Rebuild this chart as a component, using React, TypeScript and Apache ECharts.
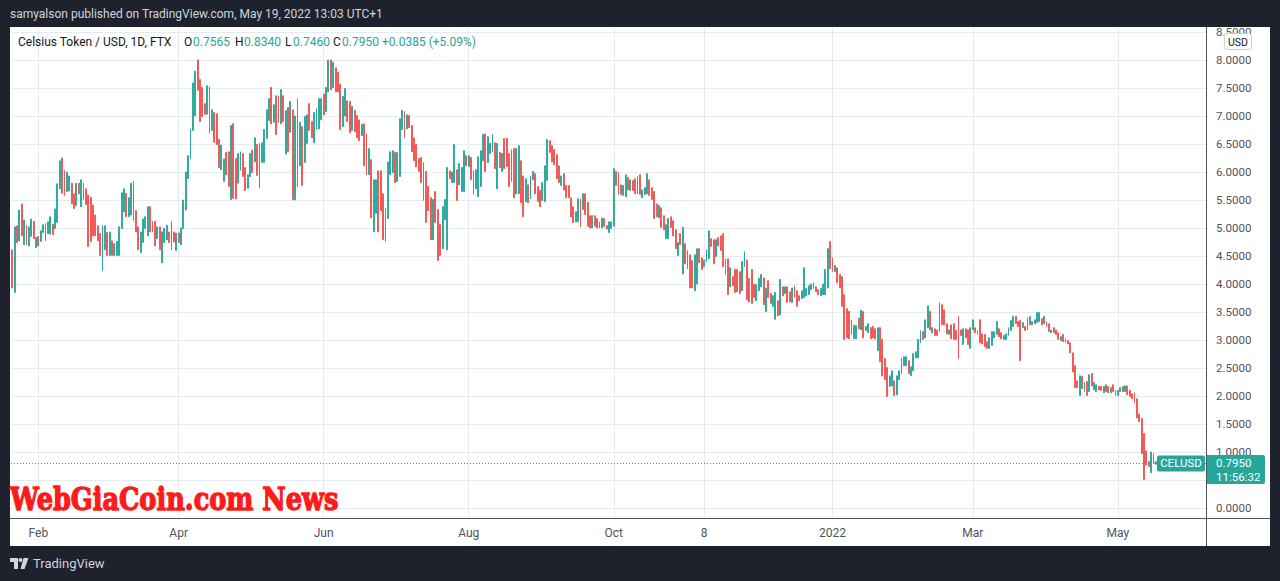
import React, { useEffect, useRef } from 'react';
import * as echarts from 'echarts';

// ---- time axis ----
const startDateUTC = Date.UTC(2021, 0, 21);
const categoryCount = 503;
const timeLabels: Record<string, string> = {
  '2021-02-01': 'Feb',
  '2021-04-01': 'Apr',
  '2021-06-01': 'Jun',
  '2021-08-01': 'Aug',
  '2021-10-01': 'Oct',
  '2021-11-08': '8',
  '2022-01-01': '2022',
  '2022-03-01': 'Mar',
  '2022-05-01': 'May',
};

// ---- price axis ----
const priceTicks = [0, 0.5, 1, 1.5, 2, 2.5, 3, 3.5, 4, 4.5, 5, 5.5, 6, 6.5, 7, 7.5, 8, 8.5];
// 0.5000 sits under the last-price box in the reference, so its label is not drawn
const priceLabels = [0, 1, 1.5, 2, 2.5, 3, 3.5, 4, 4.5, 5, 5.5, 6, 6.5, 7, 7.5, 8, 8.5];
const priceMin = -0.1786;
const priceMax = 8.589;

// Jan 21 - Apr 9, 2021
const opensJanApr2021 = [4.61,3.85,5.04,4.77,5.43,4.70,5.05,4.68,4.85,5.12,4.65,4.85,4.76,4.92,5.08,4.90,4.89,5.07,4.99,5.10,5.70,6.25,6.03,5.65,5.66,5.80,5.61,5.40,5.80,5.38,5.80,5.70,5.59,5.55,5.41,5.23,5.04,4.90,4.24,4.61,4.92,4.51,4.77,4.51,4.51,4.51,4.99,5.29,5.62,5.20,5.23,5.83,5.31,5.02,4.56,4.74,4.99,4.86,5.38,5.12,5.12,4.81,5.02,4.38,4.74,4.79,4.93,4.61,4.93,4.60,4.91,4.70,4.99,5.32,5.88,6.24,6.74,7.00,8.00];
const closesJanApr2021 = [3.93,5.02,4.74,5.32,4.86,5.14,4.70,5.02,5.16,4.81,4.83,4.68,4.95,5.06,4.77,5.11,5.20,4.88,5.34,5.79,6.20,5.62,5.58,6.00,5.93,5.43,5.35,5.80,5.61,5.86,5.51,5.42,4.67,4.76,4.86,4.86,4.77,4.51,5.04,5.04,4.51,4.93,4.51,4.72,4.76,5.02,5.63,5.70,5.20,5.54,5.80,5.13,4.93,4.61,4.93,5.16,5.20,5.38,4.93,4.93,4.68,5.02,4.61,4.93,5.00,5.05,4.74,5.11,4.75,4.91,4.74,5.00,5.50,6.00,6.29,6.77,7.59,7.80,7.46];
// Apr 10 - May 19, 2021
const opensAprMay2021 = [7.65,7.51,7.22,7.03,7.52,6.74,7.06,7.04,6.58,6.04,5.83,6.35,6.36,5.51,6.86,6.24,5.80,6.03,6.33,6.08,5.71,5.92,6.39,6.18,6.49,5.71,6.17,6.17,6.60,6.92,7.51,6.89,7.36,7.36,6.86,7.36,6.32,7.15,6.71,7.11];
const closesAprMay2021 = [6.90,6.99,7.03,7.54,6.69,7.11,6.53,6.49,6.08,6.48,6.23,5.95,5.74,6.83,5.53,5.52,6.33,6.36,5.92,5.67,5.95,6.33,5.99,6.61,5.94,6.51,6.52,6.76,7.11,7.31,6.86,7.20,6.67,6.88,7.47,6.90,7.10,6.36,7.26,5.51];
// May 20 - Sep 18, 2021
const opensMaySep2021 = [5.50,7.31,6.11,6.81,6.17,6.51,7.22,6.90,6.52,6.76,6.77,6.93,7.39,7.08,7.43,8.00,7.51,7.86,7.78,7.57,6.81,7.00,7.27,7.26,6.74,7.10,7.01,6.93,6.65,6.86,6.68,5.95,6.22,4.93,5.26,6.02,6.02,5.61,4.76,5.17,5.95,5.99,6.35,5.83,5.92,6.76,7.08,6.77,7.01,6.83,6.61,6.49,6.24,6.26,6.17,6.01,5.74,5.54,4.79,5.65,5.33,5.06,4.63,5.15,4.61,6.02,5.81,5.81,6.04,5.77,5.65,5.65,6.29,6.10,6.26,6.02,5.70,5.56,5.74,6.20,6.68,6.17,6.33,6.36,6.52,5.70,6.35,6.01,6.60,6.60,6.33,5.83,6.42,5.61,5.61,6.20,5.93,5.47,5.77,5.52,5.86,5.97,5.74,5.67,5.49,5.47,5.85,6.56,6.47,6.40,6.31,6.11,5.76,5.97,5.76,5.76,5.54,5.38,5.11,5.11,5.52,5.33];
const closesMaySep2021 = [7.00,5.74,6.89,5.76,6.99,7.02,6.74,6.61,7.06,7.13,7.31,7.31,7.02,7.51,8.00,7.47,7.96,7.43,7.43,6.76,7.35,7.49,6.90,6.70,7.17,6.72,6.61,6.56,6.85,6.11,5.95,6.42,5.18,5.86,5.86,4.93,5.31,4.79,5.35,6.18,6.36,6.38,5.81,6.35,6.95,7.10,6.61,7.02,6.79,6.36,6.20,6.09,6.01,5.81,5.49,5.10,5.31,4.79,5.51,5.10,4.42,4.51,5.38,5.51,6.08,5.88,6.00,6.49,5.49,6.15,6.08,6.38,6.11,6.29,5.86,5.60,6.04,6.27,6.38,6.67,6.01,6.63,6.51,6.67,6.06,6.51,6.08,6.33,6.06,6.10,5.74,6.40,5.54,6.42,6.47,5.45,5.20,5.88,5.45,5.92,6.01,5.61,5.47,5.38,5.81,6.11,6.58,6.35,6.18,6.13,5.88,5.81,5.93,5.68,5.54,5.54,5.20,5.10,5.29,5.52,5.02,5.61];
// Sep 19, 2021 - Jan 16, 2022
const opensSepJan = [5.61,5.46,5.22,5.00,5.22,5.17,5.00,5.00,5.17,5.04,4.92,4.99,5.03,6.01,5.99,5.77,5.58,5.56,5.90,5.67,5.85,5.88,5.61,5.95,5.54,5.60,5.61,5.86,5.72,5.65,5.43,5.18,5.36,5.22,4.81,4.81,5.20,5.13,4.97,4.51,4.90,4.18,4.72,4.60,4.52,4.42,3.88,4.00,4.63,4.47,4.31,4.40,4.45,4.81,4.79,4.49,4.83,4.86,4.90,4.45,4.45,3.95,4.13,4.26,4.26,4.22,3.88,4.31,4.43,4.10,4.26,4.00,3.70,3.88,3.95,4.11,3.51,4.06,3.83,3.60,3.37,3.70,3.45,3.95,3.83,3.95,3.86,3.67,3.97,3.88,3.79,3.74,3.76,3.79,3.81,3.90,4.02,3.95,3.90,3.79,3.81,3.81,3.93,4.76,4.47,4.22,4.29,4.17,4.13,3.81,3.56,3.51,3.35,3.02,3.02,3.39,3.18,3.51,3.17,3.13];
const closesSepJan = [5.24,5.03,5.00,5.22,5.03,5.00,5.11,5.18,5.03,4.98,5.11,5.11,6.06,5.76,5.60,5.60,5.76,5.95,5.68,5.86,5.67,5.61,5.92,5.60,5.68,5.72,5.97,5.58,5.51,5.17,5.20,5.40,5.01,4.97,5.06,5.17,5.01,4.86,4.63,4.74,4.70,5.01,4.36,4.27,3.93,3.93,4.52,4.63,4.38,4.26,4.43,4.61,4.95,4.67,4.36,4.79,4.68,4.60,4.31,4.17,3.81,4.29,3.97,3.85,3.86,3.83,4.40,4.58,3.72,3.68,3.65,3.76,3.99,4.10,4.17,3.63,3.92,3.76,3.65,3.79,3.85,3.43,4.08,3.79,3.95,3.67,3.68,3.93,3.76,3.60,3.70,3.88,4.29,3.92,3.97,4.00,3.92,3.86,3.81,3.92,4.00,4.26,4.63,4.27,4.22,4.33,4.02,3.93,3.60,3.01,3.04,3.02,3.10,3.26,3.26,3.20,3.53,3.04,3.24,3.29];
// Jan 17 - May 18, 2022
const opensJanMay2022 = [3.22,3.24,3.20,2.81,3.22,3.01,2.67,2.51,2.17,2.18,2.27,2.02,2.29,2.40,2.54,2.54,2.63,2.36,2.45,2.68,2.68,2.95,3.15,3.04,3.22,3.51,3.13,3.20,3.18,3.15,3.63,3.54,3.29,3.10,3.27,3.29,3.17,3.42,3.18,2.92,3.20,3.18,2.85,3.18,3.22,3.17,3.36,3.11,3.10,2.97,2.85,2.90,3.04,3.10,3.20,3.13,3.01,3.01,3.08,3.17,3.24,3.42,3.33,3.35,3.22,3.24,3.18,3.27,3.33,3.29,3.31,3.33,3.38,3.29,3.33,3.29,3.13,3.22,3.18,3.13,2.99,3.10,3.02,2.99,2.95,2.77,2.54,2.27,2.01,2.35,2.08,2.26,2.08,2.40,2.11,2.08,2.17,2.17,2.06,2.20,2.17,2.06,2.20,2.10,2.01,2.15,2.08,2.08,2.18,2.10,2.04,2.06,1.95,1.68,1.60,1.33,1.02,0.83,0.63,0.97,0.78,0.86];
const closesJanMay2022 = [3.02,3.04,3.02,3.22,2.61,2.36,2.29,1.99,2.36,2.45,2.01,2.36,2.45,2.68,2.70,2.70,2.40,2.52,2.76,2.79,3.01,3.17,3.01,3.36,3.61,3.18,3.22,3.08,3.08,3.67,3.27,3.27,3.11,3.18,3.02,3.01,3.01,2.67,3.08,3.20,3.04,2.92,3.22,3.36,3.13,3.10,2.95,2.93,2.88,2.85,3.04,3.15,3.15,3.33,3.06,3.02,3.08,3.11,3.22,3.35,3.42,3.29,3.24,2.63,3.31,3.17,3.40,3.42,3.27,3.36,3.49,3.49,3.27,3.42,3.24,3.15,3.18,3.13,3.10,3.01,3.06,2.97,2.95,2.93,2.77,2.43,2.15,2.15,2.36,2.13,2.24,2.01,2.38,2.18,2.24,2.20,2.11,2.10,2.17,2.08,2.06,2.15,2.08,2.01,2.10,2.08,2.17,2.18,2.02,1.99,1.95,1.88,1.61,1.54,0.97,0.51,0.77,0.74,1.00,0.79,0.83,0.75];
// May 19, 2022 (legend values)
const lastOpen = 0.7565;
const lastHigh = 0.834;
const lastLow = 0.746;
const lastClose = 0.795;
const changeAbs = 0.0385;
const changePct = 5.09;

const UP = '#26a69a';
const DOWN = '#ef5350';
const GRID = '#e4ebf1';
const FRAME = '#1e222d';
const FONT = 'Roboto, "Liberation Sans", sans-serif';

function fmtDate(ms: number) {
  return new Date(ms).toISOString().slice(0, 10);
}

export default function App() {
  const ref = useRef<HTMLDivElement>(null);

  useEffect(() => {
    if (!ref.current) return;
    const chart = echarts.init(ref.current, undefined, { renderer: 'svg' });

    const categories: string[] = [];
    for (let i = 0; i < categoryCount; i++) categories.push(fmtDate(startDateUTC + i * 86400000));

    const opens = [...opensJanApr2021, ...opensAprMay2021, ...opensMaySep2021, ...opensSepJan, ...opensJanMay2022];
    const closes = [...closesJanApr2021, ...closesAprMay2021, ...closesMaySep2021, ...closesSepJan, ...closesJanMay2022];
    const candles: number[][] = opens.map((o, i) => {
      const c = closes[i];
      return [o, c, Math.min(o, c), Math.max(o, c)];
    });
    candles.push([lastOpen, lastClose, lastLow, lastHigh]);

    const isLabelled = (_i: number, v: string) => Object.prototype.hasOwnProperty.call(timeLabels, v);

    chart.setOption({
      animation: false,
      backgroundColor: FRAME,
      grid: { left: 11, right: 73, top: 27, bottom: 63, containLabel: false },
      xAxis: {
        type: 'category',
        data: categories,
        boundaryGap: true,
        axisLine: { show: false },
        axisTick: { show: false },
        axisLabel: {
          interval: isLabelled,
          formatter: (v: string) => timeLabels[v] ?? '',
          color: '#50535e',
          fontSize: 12,
          fontFamily: FONT,
          margin: 9,
        },
        splitLine: { show: true, interval: isLabelled, alignWithLabel: true, lineStyle: { color: GRID, width: 1 } },
      },
      yAxis: {
        type: 'value',
        position: 'right',
        min: priceMin,
        max: priceMax,
        axisLine: { show: false },
        axisTick: { show: false, customValues: priceTicks },
        axisLabel: {
          customValues: priceLabels,
          formatter: (v: number) => v.toFixed(4),
          color: '#50535e',
          fontSize: 11.5,
          fontFamily: FONT,
          margin: 9,
        },
        splitLine: { show: true, lineStyle: { color: GRID, width: 1 } },
      },
      series: [
        {
          type: 'candlestick',
          data: candles,
          barWidth: 1.4,
          itemStyle: { color: UP, color0: DOWN, borderColor: UP, borderColor0: DOWN, borderWidth: 0.9 },
          markLine: {
            silent: true,
            animation: false,
            symbol: ['none', 'none'],
            label: { show: false },
            lineStyle: { color: UP, type: [1, 2], width: 1 },
            data: [{ yAxis: lastClose }],
          },
        },
      ],
    });

    const py = chart.convertToPixel({ yAxisIndex: 0 }, lastClose) as number;
    const txt = (text: string, x: number, y: number, fill: string, font: string, z = 60, align = 'left') => ({
      type: 'text', x, y, z,
      style: { text, fill, font, align, verticalAlign: 'middle', textAlign: align, textVerticalAlign: 'middle' },
    });
    const legendFont = `12px ${FONT}`;
    const dark = '#131722';

    chart.setOption({
      graphic: [
        { type: 'rect', z: -100, shape: { x: 10, y: 27, width: 1260, height: 519 }, style: { fill: '#ffffff' } },
        { type: 'rect', z: 50, shape: { x: 0, y: 0, width: 1280, height: 27 }, style: { fill: FRAME } },
        txt('samyalson published on TradingView.com, May 19, 2022 13:03 UTC+1', 10, 14, '#d1d4dc', `12px ${FONT}`),
        { type: 'line', z: 55, shape: { x1: 1206.5, y1: 27, x2: 1206.5, y2: 546 }, style: { stroke: '#50535e', lineWidth: 1 } },
        { type: 'line', z: 55, shape: { x1: 10, y1: 518.5, x2: 1270, y2: 518.5 }, style: { stroke: '#50535e', lineWidth: 1 } },
        // legend
        txt('Celsius Token / USD, 1D, FTX', 18, 42, dark, legendFont),
        txt('O', 184, 42, dark, legendFont),
        txt(lastOpen.toFixed(4), 193, 42, UP, legendFont),
        txt('H', 235, 42, dark, legendFont),
        txt(lastHigh.toFixed(4), 244, 42, UP, legendFont),
        txt('L', 285, 42, dark, legendFont),
        txt(lastLow.toFixed(4), 293, 42, UP, legendFont),
        txt('C', 333, 42, dark, legendFont),
        txt(lastClose.toFixed(4), 342, 42, UP, legendFont),
        txt(`+${changeAbs.toFixed(4)} (+${changePct.toFixed(2)}%)`, 382, 42, UP, legendFont),
        // USD badge
        { type: 'rect', z: 60, shape: { x: 1224.5, y: 33.5, width: 27, height: 16, r: 3 }, style: { fill: '#ffffff', stroke: '#c9ccd4', lineWidth: 1 } },
        txt('USD', 1238, 42, dark, `10.5px ${FONT}`, 61, 'center'),
        // last price labels
        { type: 'rect', z: 60, shape: { x: 1157, y: py - 8, width: 48, height: 16, r: 2 }, style: { fill: UP } },
        txt('CELUSD', 1181, py, '#ffffff', `11.5px ${FONT}`, 61, 'center'),
        { type: 'rect', z: 60, shape: { x: 1207, y: py - 8.5, width: 58, height: 29, r: [0, 2, 2, 0] }, style: { fill: UP } },
        txt(lastClose.toFixed(4), 1216, py, '#ffffff', `11.5px ${FONT}`, 61),
        txt('11:56:32', 1216, py + 14, '#ffffff', `11.5px ${FONT}`, 61),
        // watermark
        {
          type: 'text', z: 70, x: 10, y: 499, scaleX: 0.8,
          style: { text: 'WebGiaCoin.com News', fill: '#ff1a1a', stroke: '#ff1a1a', lineWidth: 1.4, font: `bold 32px "DejaVu Serif", serif`, align: 'left', verticalAlign: 'middle', textAlign: 'left', textVerticalAlign: 'middle' },
        },
        // footer logo
        { type: 'rect', z: 60, shape: { x: 10, y: 558, width: 8, height: 4 }, style: { fill: '#d1d4dc' } },
        { type: 'rect', z: 60, shape: { x: 14, y: 558, width: 4, height: 11 }, style: { fill: '#d1d4dc' } },
        { type: 'circle', z: 60, shape: { cx: 20.5, cy: 560, r: 2 }, style: { fill: '#d1d4dc' } },
        { type: 'polygon', z: 60, shape: { points: [[23.5, 558], [28.5, 558], [24.5, 569], [20.5, 569]] }, style: { fill: '#d1d4dc' } },
        txt('TradingView', 33, 563, '#d1d4dc', `13px ${FONT}`),
      ],
    });

    return () => chart.dispose();
  }, []);

  return <div ref={ref} style={{ position: 'fixed', left: 0, top: 0, width: 1280, height: 581 }} />;
}
